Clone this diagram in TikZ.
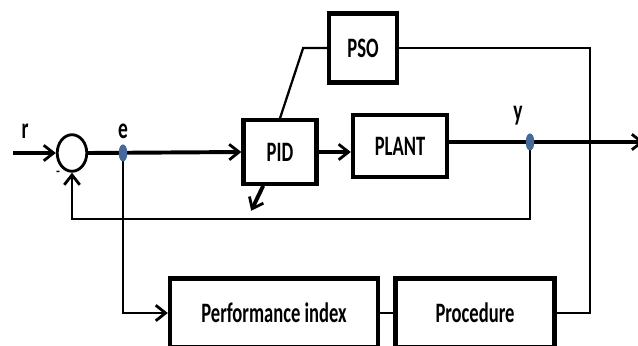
\documentclass[tikz,border=0pt]{standalone}
\usepackage{fontspec}
\setmainfont{Carlito}[FakeStretch=0.66]
\usetikzlibrary{arrows.meta,shapes.geometric}
\definecolor{tapblue}{RGB}{70,105,155}

\begin{document}
\begin{tikzpicture}[x=0.025cm, y=-0.025cm, >={Straight Barb[length=7pt,width=11pt,line width=2pt]}]
\tikzset{
  block/.style={
    draw, rectangle, line width=3pt,
    inner sep=0pt, align=center, font=\bfseries\fontsize{20}{22}\selectfont
  },
  sig/.style={line width=2.8pt},
  wire/.style={line width=1.6pt},
  lbl/.style={font=\bfseries\fontsize{21}{23}\selectfont, inner sep=0pt},
  tap/.style={ellipse, fill=tapblue, draw=none, minimum width=6pt, minimum height=12pt, inner sep=0pt}
}
\clip (0,0) rectangle (638,345);

% Nodes
\node[ellipse, draw, line width=2pt, minimum width=21pt, minimum height=26pt, inner sep=0pt] (sum) at (72,153) {};
\node[block, minimum width=52pt, minimum height=45pt] (pid)   at (280,152) {PID};
\node[block, minimum width=67pt, minimum height=44pt] (plant) at (400,146) {PLANT};
\node[block, minimum width=48pt, minimum height=49pt] (pso)   at (363,48)  {PSO};
\node[block, minimum width=148pt, minimum height=49pt] (perf) at (274,313) {Performance index};
\node[block, minimum width=113pt, minimum height=49pt] (proc) at (475,313) {Procedure};

\coordinate (rin)  at (13,153);
\coordinate (yout) at (644,142);
\node[tap] (etap) at (123,153) {};
\node[tap] (ytap) at (530,142) {};

% Labels
\node[lbl] at (25,131) {r};
\node[lbl] at (123,131) {e};
\node[lbl] at (518,116) {y};
\node[lbl, font=\fontsize{14}{16}\selectfont] at (58,174) {-};

% Forward path
\draw[sig, ->] (rin) -- (sum.west);
\draw[sig, ->] (sum.east) -- (pid.west);
\draw[sig, ->] (pid.east) -- (pid.east -| plant.west);
\draw[sig, ->] (plant.east |- yout) -- (yout);

% Feedback
\draw[wire, ->, line width=2pt] (ytap.center) -- (530,219) -| (sum.south);
\draw[sig, ->] ([xshift=-0.42cm]pid.south) -- ++(-12,25);

% PSO tuning loop
\draw[wire] (pso.west) -- ++(-24,0) -- (pid.north);
\draw[wire] (pso.east) -- (590,48) |- (proc.east);
\draw[wire] (perf.east) -- (proc.west);
\draw[wire, ->, line width=2pt] (etap.center) |- (perf.west);

\node[tap] at (123,153) {};
\node[tap] at (530,142) {};
\end{tikzpicture}
\end{document}
